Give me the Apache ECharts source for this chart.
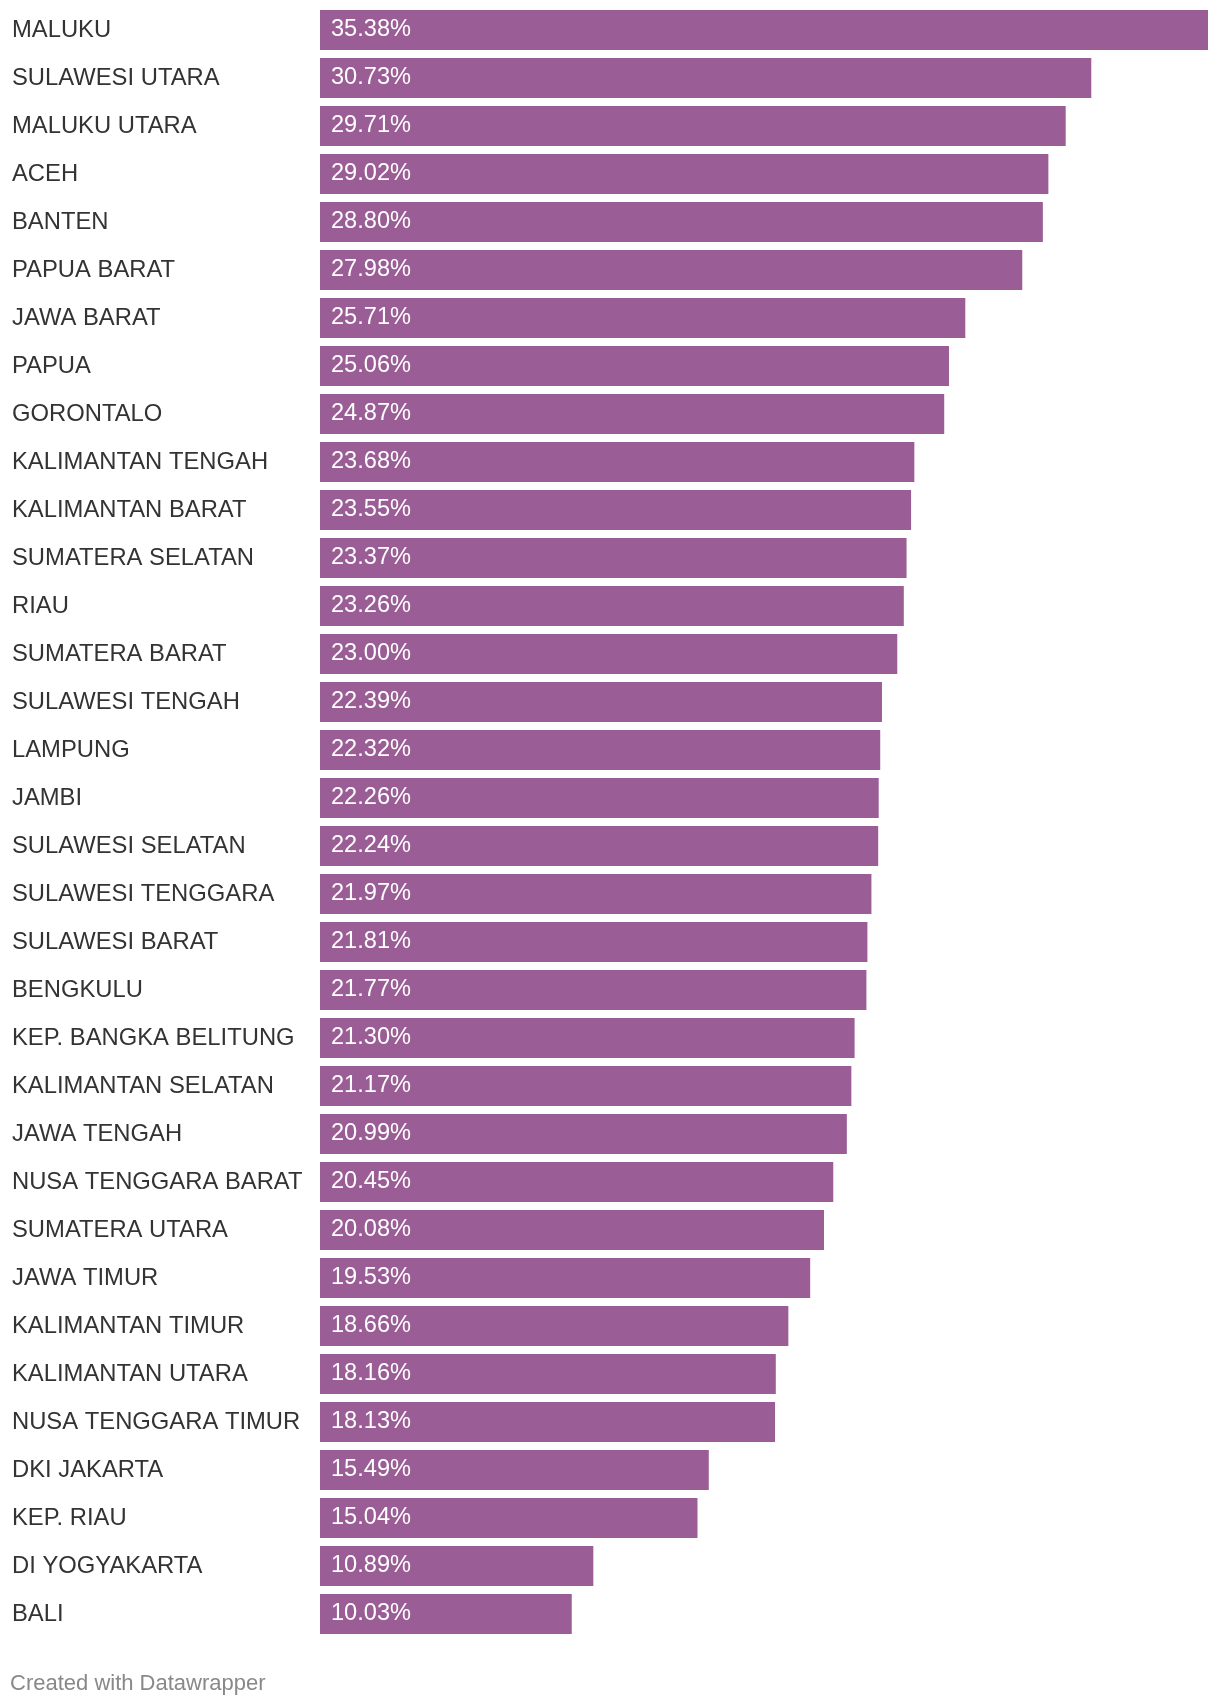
<!DOCTYPE html>
<html>
<head>
<meta charset="utf-8">
<script src="https://cdn.jsdelivr.net/npm/echarts@6/dist/echarts.min.js"></script>
<style>
html,body{margin:0;padding:0;background:#fff;}
#chart{width:1220px;height:1706px;}
</style>
</head>
<body>
<div id="chart"></div>
<script>
const categories = [
  "MALUKU","SULAWESI UTARA","MALUKU UTARA","ACEH","BANTEN","PAPUA BARAT","JAWA BARAT","PAPUA",
  "GORONTALO","KALIMANTAN TENGAH","KALIMANTAN BARAT","SUMATERA SELATAN","RIAU","SUMATERA BARAT",
  "SULAWESI TENGAH","LAMPUNG","JAMBI","SULAWESI SELATAN","SULAWESI TENGGARA","SULAWESI BARAT",
  "BENGKULU","KEP. BANGKA BELITUNG","KALIMANTAN SELATAN","JAWA TENGAH","NUSA TENGGARA BARAT",
  "SUMATERA UTARA","JAWA TIMUR","KALIMANTAN TIMUR","KALIMANTAN UTARA","NUSA TENGGARA TIMUR",
  "DKI JAKARTA","KEP. RIAU","DI YOGYAKARTA","BALI"
];
const values = [
  35.38,30.73,29.71,29.02,28.80,27.98,25.71,25.06,
  24.87,23.68,23.55,23.37,23.26,23.00,
  22.39,22.32,22.26,22.24,21.97,21.81,
  21.77,21.30,21.17,20.99,20.45,
  20.08,19.53,18.66,18.16,18.13,
  15.49,15.04,10.89,10.03
];
const footerText = "Created with Datawrapper";

const FONT = '"Liberation Sans", Arial, Helvetica, sans-serif';
const chart = echarts.init(document.getElementById('chart'), null, {renderer:'canvas'});
chart.setOption({
  animation:false,
  backgroundColor:'#ffffff',
  grid:{left:320, right:12, top:6, height:1632, containLabel:false},
  xAxis:{type:'value', min:0, max:'dataMax', show:false},
  yAxis:{
    type:'category', data:categories, inverse:true,
    axisLine:{show:false}, axisTick:{show:false}, splitLine:{show:false},
    axisLabel:{
      interval:0, align:'left', margin:308, color:'#333333',
      fontFamily:FONT, fontSize:23.8, padding:[0,0,7,0]
    }
  },
  series:[{
    type:'bar', data:values, barWidth:40,
    itemStyle:{color:'#9a5d95'},
    label:{
      show:true, position:'insideLeft', distance:11, color:'#ffffff',
      fontFamily:FONT, fontSize:23.6, offset:[0,-1],
      formatter:p=>p.value.toFixed(2)+'%'
    }
  }],
  graphic:[{
    type:'text', left:10, top:1673,
    style:{text:footerText, fill:'#888888', fontFamily:FONT, fontSize:22}
  }]
});
</script>
</body>
</html>
